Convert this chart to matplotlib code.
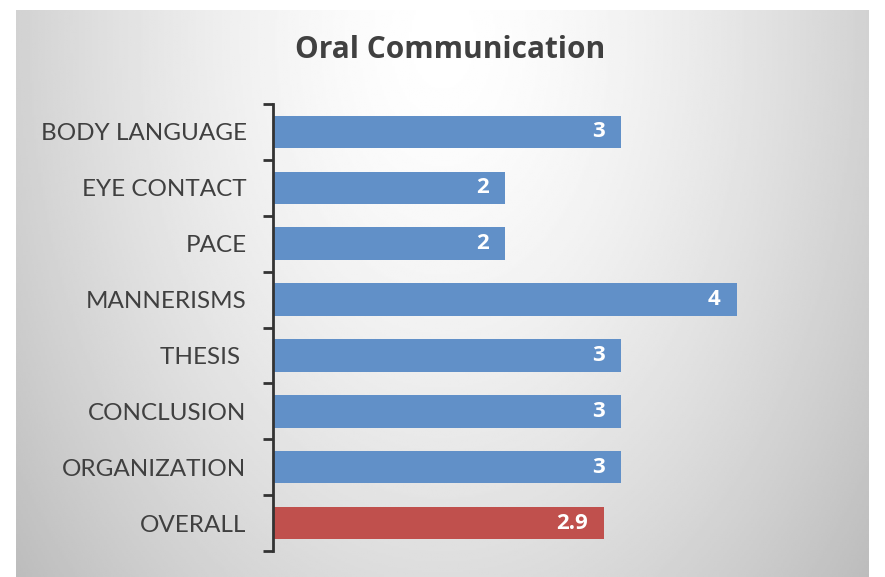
import numpy as np
import matplotlib
matplotlib.use("Agg")
import matplotlib.pyplot as plt

# data (top to bottom as shown)
categories = ["BODY LANGUAGE", "EYE CONTACT", "PACE", "MANNERISMS", "THESIS ",
              "CONCLUSION", "ORGANIZATION", "OVERALL"]
scores = [3, 2, 2, 4, 3, 3, 3, 2.857]
labels = ["3", "2", "2", "4", "3", "3", "3", "2.9"]
blue = "#6190C8"
red = "#C0504D"
colors = [blue] * 7 + [red]

W, H = 885, 577
fig = plt.figure(figsize=(W / 100, H / 100), dpi=100)
fig.patch.set_facecolor("white")

# radial gray background panel
bg = fig.add_axes([16 / W, 0, (869 - 16) / W, (577 - 10) / H])
xx, yy = np.meshgrid(np.linspace(-1, 1, 400), np.linspace(0, 1, 300))
r = np.sqrt((xx / 1.05) ** 2 + ((yy - 0.05) / 1.2) ** 2)
shade = np.clip(1.0 - 0.19 * r ** 1.5, 0, 1)
bg.imshow(shade, cmap="gray", vmin=0, vmax=1, aspect="auto", extent=[0, 1, 1, 0])
bg.axis("off")

# main axes
left, right = 273, 853
top, bottom = 104, 551
ax = fig.add_axes([left / W, 1 - bottom / H, (right - left) / W, (bottom - top) / H])
ax.patch.set_alpha(0)

y = np.arange(len(categories))
ax.barh(y, scores, height=0.58, color=colors, zorder=2)
ax.set_ylim(len(categories) - 0.5, -0.5)
ax.set_xlim(0, 5)

for yi, v, lab in zip(y, scores, labels):
    ax.text(v - 0.14, yi, lab, ha="right", va="center", color="white",
            fontsize=16, fontweight="bold", family="Open Sans")

ax.set_yticks(y)
ax.set_yticklabels(categories, fontsize=17.5, color="#404040", family="Lato")
ax.set_yticks(np.arange(len(categories) + 1) - 0.5, minor=True)
ax.tick_params(axis="y", which="major", length=0, pad=19)
ax.tick_params(axis="y", which="minor", length=7, width=2, color="#333333")
ax.set_xticks([])
for s in ["top", "right", "bottom"]:
    ax.spines[s].set_visible(False)
ax.spines["left"].set_color("#333333")
ax.spines["left"].set_linewidth(2)

fig.text(450 / W, 1 - 50 / H, "Oral Communication", ha="center", va="center",
         fontsize=21.5, fontweight="bold", color="#404040", family="Open Sans")

fig.savefig("out.png", dpi=100)
